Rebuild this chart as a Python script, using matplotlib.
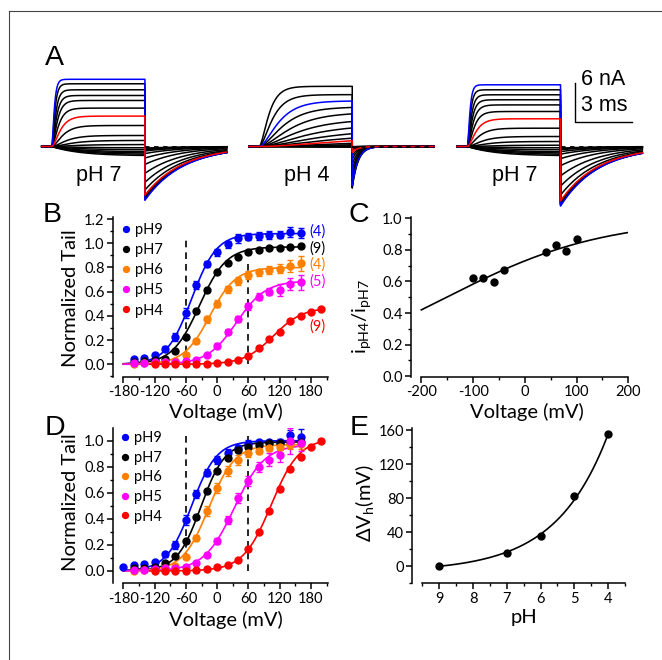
import numpy as np
import matplotlib
matplotlib.use('Agg')
import matplotlib.pyplot as plt
from matplotlib.ticker import MultipleLocator, FormatStrFormatter

plt.rcParams['font.family'] = ['Lato', 'DejaVu Sans']
plt.rcParams['mathtext.fontset'] = 'custom'
plt.rcParams['mathtext.rm'] = 'Lato'
plt.rcParams['mathtext.it'] = 'Lato:italic'
plt.rcParams['mathtext.fallback'] = 'stixsans'
plt.rcParams['axes.unicode_minus'] = False

W, H = 662, 660

# ---- Panel A: current traces (nA at end of pulse, tail peak in nA, activation tau in ms)
a1_step = [10.5, 9.8, 8.86, 7.97, 7.19, 6.0, 4.75, 3.28, 1.72, 0.94, 0.3, -0.2, -0.5, -0.8, -1.0, -1.2, -1.4]
a1_tail = [-8.4, -8.3, -8.2, -8.1, -8.0, -7.8, -7.6, -6.8, -5.6, -4.2, -2.8, -1.8, -1.1, -0.7, -0.5, -0.35, -0.25]
a1_tau = [0.1, 0.12, 0.15, 0.18, 0.22, 0.27, 0.35, 0.45, 0.6, 0.8, 1.0, 1.5, 1.5, 1.5, 1.5, 1.5, 1.5]
a1_col = ['b', 'k', 'k', 'k', 'k', 'k', 'r', 'k', 'k', 'k', 'k', 'k', 'k', 'k', 'k', 'k', 'k']

a2_step = [9.4, 8.1, 7.1, 6.1, 5.1, 3.9, 2.9, 2.0, 1.3, 0.9, 0.5, 0.27, 0.1, 0.0, -0.05, -0.1]
a2_tail = [-6.5, -6.3, -6.1, -5.4, -4.6, -3.7, -2.8, -2.0, -1.4, -0.9, -0.5, -0.3, -0.15, -0.1, -0.05, -0.02]
a2_tau = [0.4, 0.55, 0.8, 1.0, 1.3, 1.6, 2.0, 2.5, 3.0, 4.0, 4.0, 4.0, 2.0, 2.0, 2.0, 2.0]
a2_col = ['k', 'k', 'b', 'k', 'k', 'k', 'k', 'k', 'k', 'r', 'k', 'k', 'k', 'k', 'k', 'k']

a3_step = [9.64, 8.86, 8.08, 7.3, 6.5, 5.47, 4.33, 2.86, 1.56, 0.78, 0.2, -0.2, -0.5, -0.8, -1.0, -1.2, -1.4]
a3_tail = [-9.3, -9.2, -9.1, -9.0, -8.9, -8.7, -8.5, -7.6, -6.2, -4.6, -3.0, -1.9, -1.2, -0.8, -0.5, -0.35, -0.25]
a3_tau = a1_tau
a3_col = a1_col

a_starts = [1.15, 12.12, 23.14]      # ms, pulse onset of each recording
a_tail_tau = [2.0, 0.3, 2.0]
a_labels = ['pH 7', 'pH 4', 'pH 7']
PRE, PULSE, TAIL = 0.53, 4.93, 4.33

# ---- Panel B: normalized tail currents
v_b = np.arange(-160, 161, 20)
v_b4 = np.arange(-120, 201, 20)
b_ph9 = [0.04, 0.05, 0.075, 0.13, 0.225, 0.425, 0.655, 0.83, 0.925, 0.99, 1.04, 1.055, 1.06, 1.068, 1.07, 1.09, 1.087]
b_ph9_err = [0.01, 0.01, 0.015, 0.02, 0.035, 0.04, 0.03, 0.025, 0.03, 0.03, 0.035, 0.03, 0.03, 0.03, 0.03, 0.04, 0.04]
b_ph7 = [0.02, 0.025, 0.033, 0.047, 0.11, 0.226, 0.44, 0.61, 0.76, 0.833, 0.883, 0.924, 0.943, 0.957, 0.963, 0.97, 0.98]
b_ph7_err = [0.01] * 17
b_ph6 = [0.005, 0.008, 0.012, 0.02, 0.03, 0.08, 0.193, 0.37, 0.502, 0.618, 0.687, 0.737, 0.76, 0.778, 0.79, 0.814, 0.833]
b_ph6_err = [0.005] * 4 + [0.01, 0.015, 0.02, 0.025, 0.03, 0.03, 0.03, 0.03, 0.03, 0.03, 0.04, 0.05, 0.06]
b_ph5 = [0.01, 0.012, 0.015, 0.018, 0.02, 0.025, 0.035, 0.075, 0.155, 0.27, 0.378, 0.48, 0.557, 0.6, 0.612, 0.66, 0.676]
b_ph5_err = [0.005] * 6 + [0.01, 0.015, 0.02, 0.02, 0.025, 0.03, 0.03, 0.03, 0.05, 0.05, 0.06]
b_ph4 = [0.0, 0.0, 0.0, 0.0, 0.002, 0.005, 0.01, 0.02, 0.035, 0.07, 0.138, 0.207, 0.268, 0.356, 0.4, 0.428, 0.455]
b_ph4_err = [0.005] * 17
b_n = ['(4)', '(9)', '(4)', '(5)', '(9)']
b_n_y = [1.093, 0.96, 0.826, 0.686, 0.308]
b_vh = [-49, -34, -14, 37, 108]
b_k = [24, 26, 25, 28, 28]
b_gmax = [1.08, 0.97, 0.80, 0.69, 0.47]

# ---- Panel C
c_volt = [-100, -80, -60, -40, 40, 60, 80, 100]
c_ratio = [0.624, 0.619, 0.598, 0.67, 0.789, 0.831, 0.793, 0.867]
c_K, c_a = 0.3694, 0.00659

# ---- Panel D: each curve normalized to its own maximum
v_d9 = np.arange(-180, 161, 20)
d_ph9 = [0.033, 0.043, 0.05, 0.07, 0.127, 0.2, 0.39, 0.59, 0.755, 0.85, 0.908, 0.94, 0.975, 0.987, 0.987, 0.99, 1.04, 1.03]
d_ph9_err = [0.005, 0.005, 0.01, 0.01, 0.02, 0.03, 0.04, 0.03, 0.03, 0.03, 0.03, 0.03, 0.03, 0.02, 0.02, 0.02, 0.04, 0.06]
d_ph7 = [0.02, 0.02, 0.03, 0.058, 0.112, 0.229, 0.412, 0.61, 0.768, 0.87, 0.929, 0.954, 0.97, 0.98, 0.985, 0.99, 0.99]
d_ph7_err = [0.01] * 17
d_ph6 = [0.0, 0.005, 0.01, 0.02, 0.04, 0.11, 0.254, 0.458, 0.636, 0.768, 0.852, 0.903, 0.924, 0.94, 0.95, 0.965, 0.975]
d_ph6_err = [0.005] * 5 + [0.01, 0.02, 0.04, 0.04, 0.04, 0.04, 0.03, 0.03, 0.02, 0.02, 0.03, 0.04]
d_ph5 = [0.01, 0.01, 0.015, 0.02, 0.025, 0.03, 0.06, 0.12, 0.229, 0.394, 0.56, 0.692, 0.8, 0.852, 0.89, 1.0, 0.98]
d_ph5_err = [0.005] * 6 + [0.01, 0.015, 0.02, 0.03, 0.04, 0.04, 0.04, 0.05, 0.05, 0.1, 0.06]
d_ph4 = [0.0, 0.0, 0.0, 0.0, 0.005, 0.013, 0.033, 0.046, 0.084, 0.17, 0.3, 0.458, 0.63, 0.78, 0.878, 0.95, 1.0]
d_ph4_err = [0.01] * 17
d_vh = [-49, -31, -16, 33, 104]
d_k = [24, 23, 25, 29, 27]
d_gmax = [1.0, 0.99, 0.97, 0.97, 1.02]

# ---- Panel E
e_ph = [9, 7, 6, 5, 4]
e_dvh = [0, 15.7, 35.3, 82.7, 155.3]
e_a, e_b = 6.26, 0.65   # exponential fit parameters

ph_names = ['pH9', 'pH7', 'pH6', 'pH5', 'pH4']
ph_colors = ['#0000ff', 'black', '#ff8000', '#ff00ff', '#ff0000']
trace_colors = {'b': '#0000ff', 'k': 'black', 'r': '#ff0000'}

LABEL_FS = 14.5
TICK_FS = 10.5


def px_rect(l, t, r, b):
    return [l / W, 1 - b / H, (r - l) / W, (b - t) / H]


def style(ax, xmaj, xmin, ymaj, ymin, yfmt=None):
    for s in ['top', 'right']:
        ax.spines[s].set_visible(False)
    for s in ['left', 'bottom']:
        ax.spines[s].set_linewidth(1.1)
    ax.tick_params(which='major', direction='out', length=4, width=1.1, labelsize=TICK_FS, pad=2)
    ax.tick_params(which='minor', direction='out', length=2.5, width=1.0)
    ax.xaxis.set_major_locator(MultipleLocator(xmaj))
    ax.xaxis.set_minor_locator(MultipleLocator(xmin))
    ax.yaxis.set_major_locator(MultipleLocator(ymaj))
    ax.yaxis.set_minor_locator(MultipleLocator(ymin))
    if yfmt:
        ax.yaxis.set_major_formatter(FormatStrFormatter(yfmt))


def boltz(v, gmax, vh, k):
    return gmax / (1 + np.exp((vh - v) / k))


def set_labels(ax, xlab, ylab, xpos, xbase_px, ypos, ycen_px, ax_w, ax_h):
    ax.set_xlabel(xlab, fontsize=LABEL_FS)
    ax.set_ylabel(ylab, fontsize=LABEL_FS)
    ax.xaxis.set_label_coords(xpos, -xbase_px / ax_h)
    ax.xaxis.label.set_verticalalignment('baseline')
    ax.yaxis.set_label_coords(ycen_px / ax_w, ypos)
    ax.yaxis.label.set_verticalalignment('center')


fig = plt.figure(figsize=(W / 100, H / 100), dpi=100)

# outer frame
fig.add_artist(plt.Line2D([9 / W, 9 / W], [1 - 11 / H, 0], color='#444444', lw=0.8))
fig.add_artist(plt.Line2D([9 / W, 1], [1 - 11 / H, 1 - 11 / H], color='#444444', lw=0.8))

# ---------------- A
axA = fig.add_axes(px_rect(30, 40, 650, 215))
axA.set_xlim(0, 620 / 18.9)
axA.set_ylim(-(215 - 146.5) / 6.4, (146.5 - 40) / 6.4)
axA.axis('off')

groups = [(a1_step, a1_tail, a1_tau, a1_col), (a2_step, a2_tail, a2_tau, a2_col),
          (a3_step, a3_tail, a3_tau, a3_col)]
for t0, tail_tau, (steps, tails, taus, cols) in zip(a_starts, a_tail_tau, groups):
    tp = np.linspace(0, PULSE, 250)
    tt = np.linspace(0, TAIL, 250)
    for step, tail, tau, c in sorted(zip(steps, tails, taus, cols), key=lambda r: r[3] != 'k'):
        if step >= 0:
            shape = (1 - np.exp(-tp / tau)) ** 2
        else:
            shape = 1 - np.exp(-tp / tau)
        shape = shape / shape[-1]
        x = np.concatenate([[-PRE, 0], tp, PULSE + tt]) + t0
        y = np.concatenate([[0, 0], step * shape, tail * np.exp(-tt / tail_tau)])
        axA.plot(x, y, color=trace_colors[c], lw=1.1, zorder=3 if c != 'k' else 2)
    axA.plot([t0 + PULSE, t0 + PULSE + TAIL], [0, 0], color='black', lw=1.3,
             ls=(0, (2.5, 2.5)), zorder=4)

for t0, lab in zip(a_starts, a_labels):
    axA.text(t0 + 2.5, -5.34, lab, fontsize=15.5, family='Liberation Sans', ha='center', va='baseline')

# scale bar: 6 nA / 3 ms
sb_x, sb_y = 28.84, 3.88
axA.plot([sb_x, sb_x, sb_x + 3], [sb_y + 6, sb_y, sb_y], color='black', lw=1.0)
axA.text(sb_x + 0.3, 10.47, '6 nA', fontsize=15.5, family='Liberation Sans', va='center')
axA.text(sb_x + 0.3, 6.33, '3 ms', fontsize=15.5, family='Liberation Sans', va='center')

# ---------------- B
axB = fig.add_axes(px_rect(112.9, 216.6, 329.2, 377))
axB.set_xlim(-200, 215)
axB.set_ylim(-0.105, 1.22)
style(axB, 60, 30, 0.2, 0.1, '%.1f')
axB.spines['bottom'].set_bounds(-180, 212)
axB.vlines([-60, 60], 0, [1.05, 0.84], colors='black', lw=1.2, linestyles=(0, (4, 3)))
b_data = [(v_b, b_ph9, b_ph9_err), (v_b, b_ph7, b_ph7_err), (v_b, b_ph6, b_ph6_err),
          (v_b, b_ph5, b_ph5_err), (v_b4, b_ph4, b_ph4_err)]
handles = []
for (v, y, e), name, col, vh, k, g in zip(b_data, ph_names, ph_colors, b_vh, b_k, b_gmax):
    vf = np.linspace(-180 if name != 'pH4' else -130, v[-1], 300)
    axB.plot(vf, boltz(vf, g, vh, k), color=col, lw=1.2, zorder=2)
    axB.errorbar(v, y, yerr=e, fmt='none', ecolor=col, elinewidth=1.0, capsize=2.5, zorder=3)
    h, = axB.plot(v, y, 'o', color=col, ms=5, label=name, zorder=4)
    handles.append(h)
for lab, yy, col in zip(b_n, b_n_y, ph_colors):
    axB.text(193, yy, lab, color=col, fontsize=TICK_FS, ha='center', va='center')
axB.legend(handles=handles, loc='upper left', bbox_to_anchor=(0.045, 0.96), frameon=False,
           fontsize=TICK_FS, handlelength=0.5, handletextpad=0.35, labelspacing=0.42,
           borderpad=0, borderaxespad=0, markerscale=0.85)
set_labels(axB, 'Voltage (mV)', 'Normalized Tail', 0.522, 41, 0.49, 70 - 112.9, 216.3, 160.4)

# ---------------- C
axC = fig.add_axes(px_rect(411, 216.7, 628.3, 377))
axC.set_xlim(-220, 200)
axC.set_ylim(-0.005, 1.01)
style(axC, 100, 50, 0.2, 0.1, '%.1f')
axC.spines['bottom'].set_bounds(-200, 200)
vc = np.linspace(-200, 200, 300)
axC.plot(vc, 1 / (1 + c_K * np.exp(-c_a * vc)), color='black', lw=1.2)
axC.plot(c_volt, c_ratio, 'o', color='black', ms=5)
set_labels(axC, 'Voltage (mV)', r'$\mathrm{i}_{\mathrm{pH4}}/\mathrm{i}_{\mathrm{pH7}}$',
           0.532, 41, 0.376, 361.7 - 411, 217.3, 160.3)

# ---------------- D
axD = fig.add_axes(px_rect(112.9, 428.3, 329.2, 583.3))
axD.set_xlim(-200, 215)
axD.set_ylim(-0.095, 1.095)
style(axD, 60, 30, 0.2, 0.1, '%.1f')
axD.spines['bottom'].set_bounds(-180, 212)
axD.vlines([-60, 60], 0, [1.06, 1.06], colors='black', lw=1.2, linestyles=(0, (4, 3)))
d_data = [(v_d9, d_ph9, d_ph9_err), (v_b, d_ph7, d_ph7_err), (v_b, d_ph6, d_ph6_err),
          (v_b, d_ph5, d_ph5_err), (v_b4, d_ph4, d_ph4_err)]
handles = []
for (v, y, e), name, col, vh, k, g in zip(d_data, ph_names, ph_colors, d_vh, d_k, d_gmax):
    vf = np.linspace(-180 if name != 'pH4' else -130, v[-1], 300)
    axD.plot(vf, boltz(vf, g, vh, k), color=col, lw=1.2, zorder=2)
    axD.errorbar(v, y, yerr=e, fmt='none', ecolor=col, elinewidth=1.0, capsize=2.5, zorder=3)
    h, = axD.plot(v, y, 'o', color=col, ms=5, label=name, zorder=4)
    handles.append(h)
axD.legend(handles=handles, loc='upper left', bbox_to_anchor=(0.04, 0.98), frameon=False,
           fontsize=TICK_FS, handlelength=0.5, handletextpad=0.35, labelspacing=0.38,
           borderpad=0, borderaxespad=0, markerscale=0.85)
set_labels(axD, 'Voltage (mV)', 'Normalized Tail', 0.522, 42.7, 0.526, 70 - 112.9, 216.3, 155)

# ---------------- E
axE = fig.add_axes(px_rect(412.3, 428.3, 625, 583.3))
axE.set_xlim(9.8, 3.5)
axE.set_ylim(-20, 162)
style(axE, 1, 0.5, 40, 20)
axE.spines['bottom'].set_bounds(9.5, 3.5)
pe = np.linspace(9, 4, 200)
axE.plot(pe, e_a * (np.exp(e_b * (9 - pe)) - 1), color='black', lw=1.2)
axE.plot(e_ph, e_dvh, 'o', color='black', ms=5)
set_labels(axE, 'pH', r'$\Delta\mathrm{V}_{\mathrm{h}}\mathrm{(mV)}$', 0.525, 40, 0.52,
           365 - 412.3, 212.7, 155)

# panel letters
for lab, x, yb in [('A', 45, 65), ('B', 43, 221.7), ('C', 349, 221.7), ('D', 45, 435), ('E', 350, 435)]:
    fig.text(x / W, 1 - yb / H, lab, fontsize=20.5, family='Liberation Sans', va='baseline')

fig.savefig('out.png', dpi=100)
